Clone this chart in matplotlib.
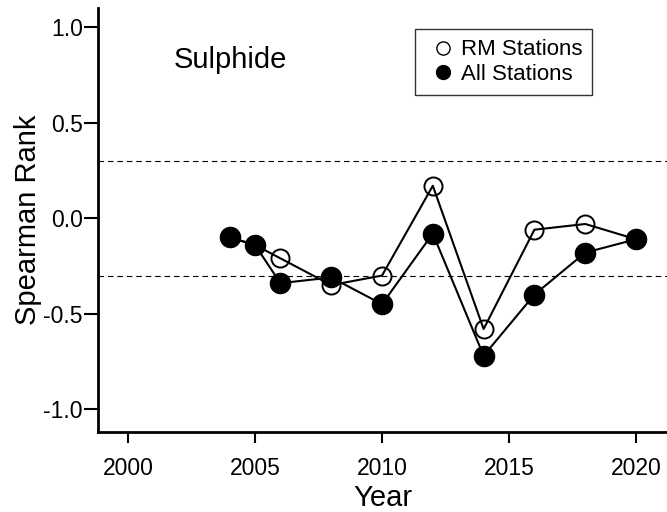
import matplotlib
matplotlib.use("Agg")
import matplotlib.pyplot as plt
from matplotlib.lines import Line2D

plt.rcParams["font.family"] = ["Liberation Sans", "DejaVu Sans"]
plt.rcParams["axes.unicode_minus"] = False

# Spearman rank by survey year
years = [2004, 2005, 2006, 2008, 2010, 2012, 2014, 2016, 2018, 2020]
rm_stations = [-0.10, -0.14, -0.21, -0.35, -0.30, 0.17, -0.58, -0.06, -0.03, -0.11]
all_stations = [-0.10, -0.14, -0.34, -0.31, -0.45, -0.08, -0.72, -0.40, -0.18, -0.11]
crit_value = 0.30
x_ticks = [2000, 2005, 2010, 2015, 2020]
y_ticks = [-1.0, -0.5, 0.0, 0.5, 1.0]

fig = plt.figure(figsize=(6.67, 5.12), dpi=100)
ax = fig.add_axes([0.147, 0.156, 0.853, 0.828])

for v in (crit_value, -crit_value):
    ax.axhline(v, color="black", linestyle=(0, (5, 3.5)), linewidth=0.8, zorder=1)

ax.plot(years, rm_stations, color="black", linewidth=1.5, marker="o",
        markersize=13, markerfacecolor="none", markeredgecolor="black",
        markeredgewidth=1.4, zorder=2)
ax.plot(years, all_stations, color="black", linewidth=1.5, marker="o",
        markersize=14.5, markerfacecolor="black", markeredgecolor="black",
        zorder=3)

ax.set_xlim(1998.82, 2021.22)
ax.set_ylim(-1.12, 1.10)
ax.set_xticks(x_ticks)
ax.set_yticks(y_ticks)
ax.set_yticklabels([f"{t:.1f}" for t in y_ticks])
ax.tick_params(axis="x", direction="out", length=8, width=1.5, pad=10,
               labelsize=16.5, colors="black")
ax.tick_params(axis="y", direction="out", length=10, width=1.5, pad=1,
               labelsize=16.5, colors="black")

for side in ("top", "right"):
    ax.spines[side].set_visible(False)
for side in ("left", "bottom"):
    ax.spines[side].set_linewidth(2)

ax.set_xlabel("Year", fontsize=21, labelpad=3)
ax.set_ylabel("Spearman Rank", fontsize=21, labelpad=1)

ax.text(0.232, 0.877, "Sulphide", transform=ax.transAxes, fontsize=21,
        ha="center", va="center")

handles = [
    Line2D([], [], linestyle="none", marker="o", markersize=9.5,
           markerfacecolor="none", markeredgecolor="black", markeredgewidth=1),
    Line2D([], [], linestyle="none", marker="o", markersize=10,
           markerfacecolor="black", markeredgecolor="black"),
]
leg = ax.legend(handles, ["RM Stations", "All Stations"], loc="upper left",
                bbox_to_anchor=(0.557, 0.950), fontsize=16, frameon=True,
                fancybox=False, handlelength=1.6, handletextpad=0.0,
                borderpad=0.45, labelspacing=0.15, borderaxespad=0)
leg.get_frame().set_edgecolor("black")
leg.get_frame().set_linewidth(1.0)

fig.savefig("out.png", dpi=100)
